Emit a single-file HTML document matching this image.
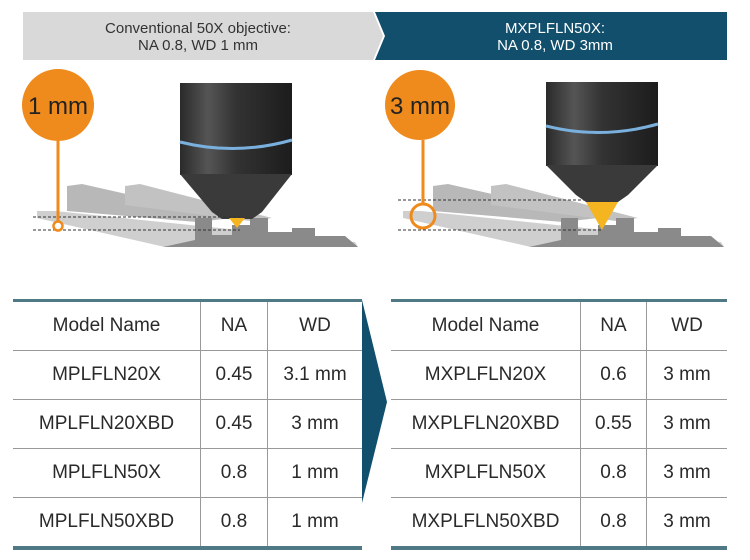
<!DOCTYPE html>
<html><head><meta charset="utf-8"><style>
body{margin:0;width:750px;height:560px;background:#fff;font-family:"Liberation Sans",sans-serif;position:relative;overflow:hidden}
svg{position:absolute;left:0;top:0}
table{position:absolute;border-collapse:collapse;font-size:19px;color:#2a2a2a;top:299px}
td{border:1.5px solid #999;text-align:center;height:48px;padding:0}
tr:first-child td{border-top:3px solid #4f7a85}
tr:last-child td{border-bottom:4px solid #4f7a85}
tr td:first-child{border-left:none}tr td:last-child{border-right:none}
</style></head><body>
<svg width="750" height="560">
<defs>
<linearGradient id="cyl" x1="0" x2="1"><stop offset="0" stop-color="#2a2a2a"/><stop offset=".25" stop-color="#555"/><stop offset=".5" stop-color="#333"/><stop offset="1" stop-color="#1c1c1c"/></linearGradient>
</defs>
<polygon points="23,12 373,12 383,36 373,60 23,60" fill="#d9d9d9"/>
<polygon points="375,12 727,12 727,60 375,60 385,36" fill="#124f6c"/>
<text x="198" y="33" font-size="15" text-anchor="middle" fill="#333">Conventional 50X objective:</text>
<text x="198" y="50" font-size="15" text-anchor="middle" fill="#333">NA 0.8, WD 1 mm</text>
<text x="555" y="33" font-size="15" text-anchor="middle" fill="#fff">MXPLFLN50X:</text>
<text x="555" y="50" font-size="15" text-anchor="middle" fill="#fff">NA 0.8, WD 3mm</text>
<g id="s">
<polygon points="37,211 55,211 355,242 358,247 165,247 37,218" fill="#cfcfcf"/>
<polygon points="67,186 82,184 232,218 197,222 67,211" fill="#b8b8b8"/>
<polygon points="125,186 140,184 272,218 250,221 125,205" fill="#c2c2c2"/>
<polygon points="195,218 212,218 212,235 232,235 232,225 250,225 250,218 268,218 268,232 292,232 292,228 315,228 315,236 345,236 358,247 163,247 195,240" fill="#8a8a8a"/>
</g>
<use href="#s" transform="translate(366,0)"/>
<rect x="180" y="83" width="112" height="92" fill="url(#cyl)"/>
<polygon points="180,174 292,174 262,212 252,219 222,219 212,212" fill="#3a3a3a"/>
<path d="M180,142 Q236,156 292,140" stroke="#7ab0de" stroke-width="3" fill="none"/>
<polygon points="229,218 245,218 237,228" fill="#f5b520"/>
<g stroke="#333" stroke-dasharray="3,2" stroke-width="1"><line x1="33" y1="217" x2="240" y2="217"/><line x1="33" y1="230" x2="240" y2="230"/><line x1="398" y1="200" x2="602" y2="200"/><line x1="398" y1="230" x2="602" y2="230"/></g>
<rect x="546" y="82" width="112" height="84" fill="url(#cyl)"/>
<polygon points="546,165 658,165 628,195 618,202 586,202 576,195" fill="#3a3a3a"/>
<path d="M546,126 Q602,140 658,124" stroke="#7ab0de" stroke-width="3" fill="none"/>
<polygon points="586,202 618,202 602,230" fill="#f5b520"/>
<circle cx="58" cy="105" r="36" fill="#ef8a1c"/>
<line x1="58" y1="140" x2="58" y2="222" stroke="#ef8a1c" stroke-width="3"/>
<circle cx="58" cy="226" r="4.5" fill="#fff" stroke="#ef8a1c" stroke-width="2.5"/>
<text x="58" y="114" font-size="24" text-anchor="middle" fill="#222">1 mm</text>
<circle cx="420" cy="105" r="35" fill="#ef8a1c"/>
<line x1="423" y1="140" x2="423" y2="204" stroke="#ef8a1c" stroke-width="3"/>
<circle cx="423" cy="216" r="12" fill="none" stroke="#ef8a1c" stroke-width="3"/>
<text x="420" y="114" font-size="24" text-anchor="middle" fill="#222">3 mm</text>
<polygon points="362,300 387,402 362,503" fill="#124f6c"/>
</svg>
<table style="left:13px;width:349px">
<tr><td style="width:187px">Model Name</td><td style="width:66px">NA</td><td>WD</td></tr>
<tr><td>MPLFLN20X</td><td>0.45</td><td>3.1 mm</td></tr>
<tr><td>MPLFLN20XBD</td><td>0.45</td><td>3 mm</td></tr>
<tr><td>MPLFLN50X</td><td>0.8</td><td>1 mm</td></tr>
<tr><td>MPLFLN50XBD</td><td>0.8</td><td>1 mm</td></tr>
</table>
<table style="left:391px;width:336px">
<tr><td style="width:189px">Model Name</td><td style="width:65px">NA</td><td>WD</td></tr>
<tr><td>MXPLFLN20X</td><td>0.6</td><td>3 mm</td></tr>
<tr><td>MXPLFLN20XBD</td><td>0.55</td><td>3 mm</td></tr>
<tr><td>MXPLFLN50X</td><td>0.8</td><td>3 mm</td></tr>
<tr><td>MXPLFLN50XBD</td><td>0.8</td><td>3 mm</td></tr>
</table>
</body></html>
